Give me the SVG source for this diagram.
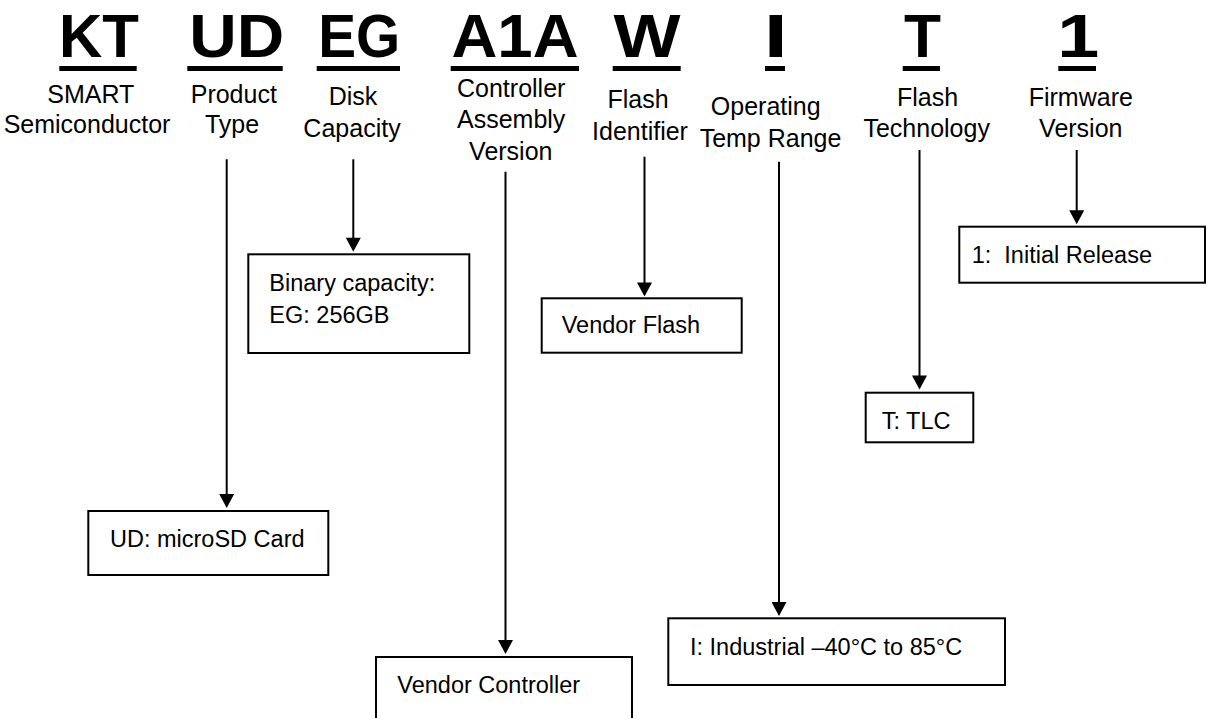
<svg xmlns="http://www.w3.org/2000/svg" width="1209" height="718" viewBox="0 0 1209 718">
<style>
.big{font-family:"Liberation Sans",Arial,sans-serif;font-weight:bold;font-size:61px;fill:#000}
.lbl{font-family:"Liberation Sans",Arial,sans-serif;font-size:25px;fill:#000;text-anchor:middle}
.bx{font-family:"Liberation Sans",Arial,sans-serif;font-size:23.5px;fill:#000}
.box{fill:#fff;stroke:#000;stroke-width:2}
.ul{fill:#000}
.conn{stroke:#000;stroke-width:2;fill:none;marker-end:url(#arr)}
</style>
<defs>
<marker id="arr" markerUnits="userSpaceOnUse" markerWidth="15" markerHeight="15" viewBox="0 0 14 15" refX="10" refY="7.5" orient="auto">
<path d="M0,0 L14,7.5 L0,15 z" fill="#000"/>
</marker>
</defs>
<rect width="1209" height="718" fill="#fff"/>

<g id="code-KT">
<text class="big" x="99" y="57" text-anchor="middle" textLength="80" lengthAdjust="spacingAndGlyphs">KT</text>
<rect class="ul" x="59.3" y="66" width="77.4" height="5"/>
<text class="lbl" x="90.8" y="102.7">SMART</text>
<text class="lbl" x="87" y="133.3">Semiconductor</text>
</g>
<g id="code-UD">
<text class="big" x="236.7" y="57" text-anchor="middle" textLength="95" lengthAdjust="spacingAndGlyphs">UD</text>
<rect class="ul" x="187.3" y="66" width="95.4" height="5"/>
<text class="lbl" x="233.8" y="102.7">Product</text>
<text class="lbl" x="232" y="133.3">Type</text>
</g>
<g id="code-EG">
<text class="big" x="359.2" y="57" text-anchor="middle" textLength="82" lengthAdjust="spacingAndGlyphs">EG</text>
<rect class="ul" x="316.7" y="66" width="83.3" height="5"/>
<text class="lbl" x="353" y="105">Disk</text>
<text class="lbl" x="352" y="136.7">Capacity</text>
</g>
<g id="code-A1A">
<text class="big" x="515" y="57" text-anchor="middle" textLength="127" lengthAdjust="spacingAndGlyphs">A1A</text>
<rect class="ul" x="450.7" y="66" width="128.3" height="5"/>
<text class="lbl" x="511.2" y="96.7">Controller</text>
<text class="lbl" x="511.2" y="128.3">Assembly</text>
<text class="lbl" x="510.8" y="160">Version</text>
</g>
<g id="code-W">
<text class="big" x="647" y="57" text-anchor="middle" textLength="67" lengthAdjust="spacingAndGlyphs">W</text>
<rect class="ul" x="612.7" y="66" width="68" height="5"/>
<text class="lbl" x="638" y="108.3">Flash</text>
<text class="lbl" x="640" y="140">Identifier</text>
</g>
<g id="code-I">
<text class="big" x="775.8" y="57" text-anchor="middle" textLength="24" lengthAdjust="spacingAndGlyphs">I</text>
<rect class="ul" x="765" y="66" width="20" height="5"/>
<text class="lbl" x="765.7" y="115">Operating</text>
<text class="lbl" x="770.5" y="146.7">Temp Range</text>
</g>
<g id="code-T">
<text class="big" x="922.5" y="57" text-anchor="middle" textLength="37" lengthAdjust="spacingAndGlyphs">T</text>
<rect class="ul" x="902.7" y="66" width="37.3" height="5"/>
<text class="lbl" x="927.5" y="106">Flash</text>
<text class="lbl" x="926.7" y="136.7">Technology</text>
</g>
<g id="code-1">
<text class="big" x="1078.3" y="57" text-anchor="middle" textLength="42" lengthAdjust="spacingAndGlyphs">1</text>
<rect class="ul" x="1058.3" y="66" width="37.7" height="5"/>
<text class="lbl" x="1080.8" y="106">Firmware</text>
<text class="lbl" x="1080.8" y="136.7">Version</text>
</g>

<g id="connectors">
<line class="conn" x1="226.7" y1="159.3" x2="226.7" y2="504"/>
<line class="conn" x1="353.3" y1="159.3" x2="353.3" y2="247.7"/>
<line class="conn" x1="505.5" y1="171.7" x2="505.5" y2="650"/>
<line class="conn" x1="644.5" y1="156.7" x2="644.5" y2="292.5"/>
<line class="conn" x1="779" y1="161.7" x2="779" y2="612"/>
<line class="conn" x1="919.5" y1="150" x2="919.5" y2="385.5"/>
<line class="conn" x1="1076.7" y1="150" x2="1076.7" y2="220.3"/>
</g>

<g id="box-binary">
<rect class="box" x="248.3" y="254.3" width="221" height="98.7"/>
<text class="bx" x="269.3" y="290.7">Binary capacity:</text>
<text class="bx" x="269.3" y="322.7">EG: 256GB</text>
</g>
<g id="box-vendor-flash">
<rect class="box" x="541.7" y="298.3" width="200" height="54.4"/>
<text class="bx" x="561.7" y="333.3">Vendor Flash</text>
</g>
<g id="box-tlc">
<rect class="box" x="865.7" y="392.7" width="107.6" height="49.6"/>
<text class="bx" x="881.7" y="429.3">T: TLC</text>
</g>
<g id="box-firmware">
<rect class="box" x="959.3" y="226.7" width="245.7" height="56"/>
<text class="bx" x="971.7" y="263.3" xml:space="preserve">1:  Initial Release</text>
</g>
<g id="box-ud">
<rect class="box" x="88.3" y="511" width="240" height="64"/>
<text class="bx" x="110" y="546.7">UD: microSD Card</text>
</g>
<g id="box-vendor-controller">
<rect class="box" x="376" y="657" width="256" height="70"/>
<text class="bx" x="397.3" y="693">Vendor Controller</text>
</g>
<g id="box-industrial">
<rect class="box" x="668.3" y="618.3" width="336.7" height="66.7"/>
<text class="bx" x="690" y="655">I: Industrial –40°C to 85°C</text>
</g>
</svg>
